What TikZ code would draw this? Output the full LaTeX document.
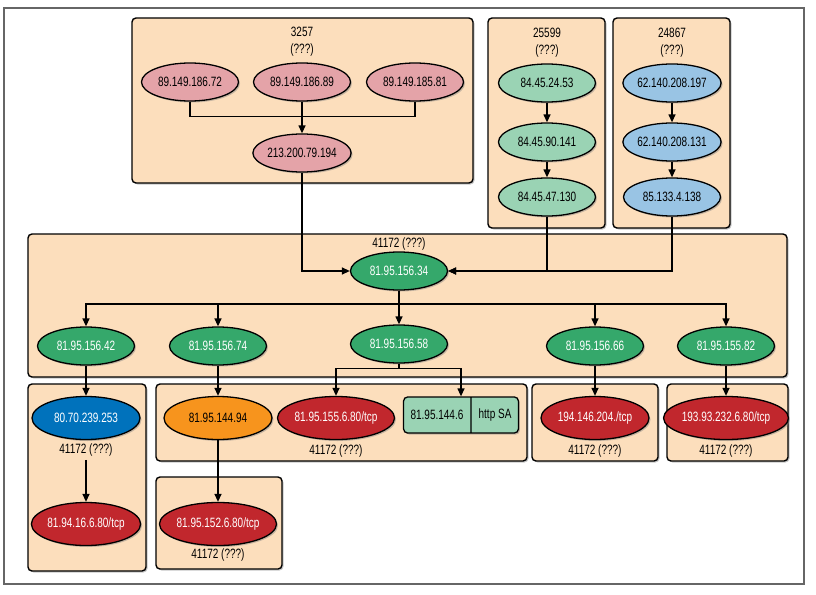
\documentclass[tikz,border=0pt]{standalone}
\usepackage{fontspec}
\setmainfont[FakeStretch=0.74]{Liberation Sans}
\usetikzlibrary{shapes.geometric,shapes.multipart,shadows,arrows.meta}

\definecolor{asfill}{RGB}{252,222,188}
\definecolor{pinkhost}{RGB}{228,163,168}
\definecolor{minthost}{RGB}{154,211,180}
\definecolor{skyhost}{RGB}{153,196,228}
\definecolor{greenhost}{RGB}{53,168,107}
\definecolor{bluehost}{RGB}{0,114,188}
\definecolor{redhost}{RGB}{193,39,45}
\definecolor{orangehost}{RGB}{247,148,29}

\tikzset{
    asbox/.style={draw=black, line width=1.4pt, fill=asfill, rounded corners=4pt,
        drop shadow={shadow xshift=1.5pt, shadow yshift=-1.5pt, opacity=0.45}},
    host/.style={ellipse, draw=black, line width=1.3pt, inner sep=0pt,
        minimum width=97pt, minimum height=38pt,
        drop shadow={shadow xshift=1.5pt, shadow yshift=-1.5pt, opacity=0.45}},
    bighost/.style={host, minimum width=108pt, minimum height=43pt},
    lighthost/.style={host, text=black},
    darkhost/.style={host, text=white},
    arr/.style={-{Triangle[length=8pt,width=7pt]}, line width=1.3pt},
    plain/.style={line width=1.3pt}
}

\begin{document}
\begin{tikzpicture}[x=1pt, y=-1pt, font=\fontsize{13.5}{15}\selectfont]
    \useasboundingbox (0,0) rectangle (816,594);
    \draw[black!60, line width=1.2pt] (4,8) rectangle (804,584);

    \draw[asbox] (132,18) rectangle (473,183);
    \draw[asbox] (488,18) rectangle (605,228);
    \draw[asbox] (613,18) rectangle (730,228);
    \draw[asbox] (28,234) rectangle (787,377);
    \draw[asbox] (28,384) rectangle (146,571);
    \draw[asbox] (156,384) rectangle (527,461);
    \draw[asbox] (532,384) rectangle (658,461);
    \draw[asbox] (667,384) rectangle (788,461);
    \draw[asbox] (156,477) rectangle (282,569);

    \node (t3257) at (302,32) {3257};
    \node (q3257) at (302,50) {(???)};
    \node (t25599) at (547,33) {25599};
    \node (q25599) at (547,51) {(???)};
    \node (t24867) at (672,33) {24867};
    \node (q24867) at (672,51) {(???)};
    \node (t41172) at (399,244) {41172 (???)};

    \node[lighthost, fill=pinkhost] (p1) at (190,82) {89.149.186.72};
    \node[lighthost, fill=pinkhost] (p2) at (302,82) {89.149.186.89};
    \node[lighthost, fill=pinkhost] (p3) at (415,82) {89.149.185.81};
    \node[lighthost, fill=pinkhost] (p4) at (302,153) {213.200.79.194};

    \node[lighthost, fill=minthost] (g1) at (547,83) {84.45.24.53};
    \node[lighthost, fill=minthost] (g2) at (547,142) {84.45.90.141};
    \node[lighthost, fill=minthost] (g3) at (547,197) {84.45.47.130};

    \node[lighthost, fill=skyhost] (b1) at (672,83) {62.140.208.197};
    \node[lighthost, fill=skyhost] (b2) at (672,142) {62.140.208.131};
    \node[lighthost, fill=skyhost] (b3) at (672,197) {85.133.4.138};

    \node[darkhost, fill=greenhost] (c) at (399,271) {81.95.156.34};
    \node[darkhost, fill=greenhost] (h1) at (86,346) {81.95.156.42};
    \node[darkhost, fill=greenhost] (h2) at (218,346) {81.95.156.74};
    \node[darkhost, fill=greenhost] (h3) at (399,344) {81.95.156.58};
    \node[darkhost, fill=greenhost] (h4) at (595,346) {81.95.156.66};
    \node[darkhost, fill=greenhost] (h5) at (726,346) {81.95.155.82};

    \node[bighost, text=white, fill=bluehost] (n1) at (86,418) {80.70.239.253};
    \node (l1) at (86,450) {41172 (???)};
    \node[bighost, text=white, fill=redhost] (r1) at (86,524) {81.94.16.6.80/tcp};

    \node[bighost, text=black, fill=orangehost] (o1) at (218,418) {81.95.144.94};
    \node[bighost, text=white, fill=redhost, minimum width=106pt] (r2) at (336,418) {81.95.155.6.80/tcp};
    \node[rectangle split, rectangle split horizontal, rectangle split parts=2,
        draw=black, line width=1.3pt, fill=minthost, rounded corners=4pt,
        minimum height=36pt, inner xsep=7pt,
        drop shadow={shadow xshift=1.5pt, shadow yshift=-1.5pt, opacity=0.45}]
        (rec) at (461,415) {81.95.144.6\nodepart{two}http SA};
    \node (l2) at (336,451) {41172 (???)};

    \node[bighost, text=white, fill=redhost] (r3) at (595,418) {194.146.204./tcp};
    \node (l3) at (595,451) {41172 (???)};
    \node[bighost, text=white, fill=redhost] (r4) at (726,418) {193.93.232.6.80/tcp};
    \node (l4) at (726,451) {41172 (???)};

    \node[bighost, text=white, fill=redhost] (r5) at (218,524) {81.95.152.6.80/tcp};
    \node (l5) at (218,555) {41172 (???)};

    \draw[plain] (p1.south) -- ++(0,15) -| (p3.south);
    \draw[arr] (p2) -- (p4);
    \draw[arr] (g1) -- (g2);
    \draw[arr] (g2) -- (g3);
    \draw[arr] (b1) -- (b2);
    \draw[arr] (b2) -- (b3);

    \draw[arr] (p4.south) |- (c.west);
    \draw[arr] (g3.south) |- (c.east);
    \draw[arr] (b3.south) |- (c.east);

    \coordinate (fork) at (399,304);
    \draw[plain] (c) -- (fork);
    \foreach \h in {h1,h2,h4,h5}
        \draw[arr] (fork) -| (\h.north);
    \draw[arr] (c) -- (h3);

    \draw[arr] (h1) -- (n1);
    \draw[arr] (h2) -- (o1);
    \draw[arr] (h3.south) -- ++(0,5) -| (r2.north);
    \draw[arr] (h3.south) -- ++(0,5) -| (rec.north);
    \draw[arr] (h4) -- (r3);
    \draw[arr] (h5) -- (r4);
    \draw[arr] (l1) -- (r1);
    \draw[arr] (o1) -- (r5);
\end{tikzpicture}
\end{document}
